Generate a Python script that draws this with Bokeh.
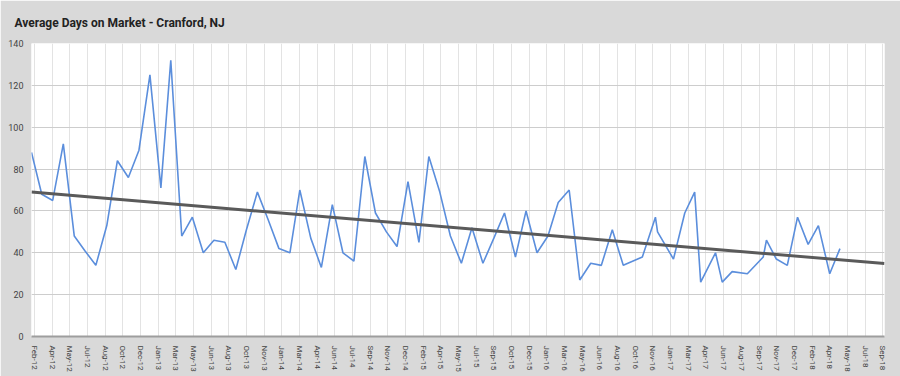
import numpy as np
import pandas as pd
from bokeh.plotting import figure
from bokeh.models import FixedTicker, Range1d
from bokeh.embed import file_html
from bokeh.resources import INLINE

title_text = "Average Days on Market - Cranford, NJ"

dates = [
    "2012-02-01", "2012-03-01", "2012-04-01", "2012-05-01", "2012-06-01", "2012-07-01",
    "2012-08-01", "2012-09-01", "2012-10-01", "2012-11-01", "2012-12-01", "2013-01-01",
    "2013-02-01", "2013-03-01", "2013-04-01", "2013-05-01", "2013-06-01", "2013-07-01",
    "2013-08-01", "2013-09-01", "2013-10-01", "2013-11-01", "2013-12-01", "2014-01-01",
    "2014-02-01", "2014-03-01", "2014-04-01", "2014-05-01", "2014-06-01", "2014-07-01",
    "2014-08-01", "2014-09-01", "2014-10-01", "2014-11-01", "2014-12-01", "2015-01-01",
    "2015-02-01", "2015-03-01", "2015-04-01", "2015-05-01", "2015-06-01", "2015-07-01",
    "2015-08-01", "2015-09-01", "2015-10-01", "2015-11-01", "2015-12-01", "2016-01-01",
    "2016-02-01", "2016-03-01", "2016-04-01", "2016-05-01", "2016-06-01", "2016-07-01",
    "2016-08-01", "2016-09-01", "2016-10-25", "2016-12-01", "2016-12-07", "2017-01-21",
    "2017-02-22", "2017-03-22", "2017-04-08", "2017-05-20", "2017-06-08", "2017-07-06",
    "2017-08-18", "2017-10-02", "2017-10-11", "2017-11-08", "2017-12-09", "2018-01-07",
    "2018-02-06", "2018-03-07", "2018-04-08", "2018-05-07",
]

days_on_market = [
    88, 68, 65, 92, 48, 41, 34, 53, 84, 76,
    89, 125, 71, 132, 48, 57, 40, 46, 45, 32,
    51, 69, 56, 42, 40, 70, 47, 33, 63, 40,
    36, 86, 59, 50, 43, 74, 45, 86, 69, 48,
    35, 52, 35, 47, 59, 38, 60, 40, 48, 64,
    70, 27, 35, 34, 51, 34, 38, 57, 50, 37,
    59, 69, 26, 40, 26, 31, 30, 38, 46, 37,
    34, 57, 44, 53, 30, 42,
]

tick_labels = [
    "Feb-12", "Apr-12", "May-12", "Jul-12", "Aug-12", "Oct-12", "Dec-12",
    "Jan-13", "Mar-13", "May-13", "Jun-13", "Aug-13", "Oct-13", "Nov-13",
    "Jan-14", "Mar-14", "Apr-14", "Jun-14", "Jul-14", "Sep-14", "Nov-14", "Dec-14",
    "Feb-15", "Apr-15", "May-15", "Jul-15", "Sep-15", "Oct-15", "Dec-15",
    "Jan-16", "Mar-16", "May-16", "Jun-16", "Aug-16", "Oct-16", "Nov-16",
    "Jan-17", "Mar-17", "Apr-17", "Jun-17", "Aug-17", "Sep-17", "Nov-17", "Dec-17",
    "Feb-18", "Apr-18", "May-18", "Jul-18", "Sep-18",
]

y_ticks = [0, 20, 40, 60, 80, 100, 120, 140]

# x as days since the first observation
d = pd.to_datetime(dates)
x = np.array((d - d[0]).days, dtype=float)

# axis ticks: evenly spaced (about every 50 days), as in the original date axis
tick_step = 50
tick_first = 8
tick_pos = [tick_first + tick_step * k for k in range(len(tick_labels))]
x_end = tick_pos[-1] + 5

# linear trendline fitted to the series, extended across the axis
slope, intercept = np.polyfit(x, np.array(days_on_market, dtype=float), 1)
trend_x = [0.0, float(x_end)]
trend_y = [intercept + slope * t for t in trend_x]

p = figure(
    width=900, height=376, output_backend="svg", toolbar_location=None,
    x_range=Range1d(0, x_end), y_range=Range1d(0, 140),
    min_border_left=31, min_border_right=16, min_border_top=41, min_border_bottom=40,
)

p.border_fill_color = "#d9d9d9"
p.background_fill_color = "#ffffff"
p.outline_line_color = None

p.title.text = title_text
p.title.text_font = "Roboto"
p.title.text_font_size = "12px"
p.title.text_font_style = "bold"
p.title.text_color = "#222222"
p.title.offset = -17
p.title.standoff = 27

p.yaxis.ticker = FixedTicker(ticks=y_ticks)
p.yaxis.axis_line_color = None
p.yaxis.major_tick_line_color = None
p.yaxis.minor_tick_line_color = None
p.yaxis.major_label_text_font = "Roboto"
p.yaxis.major_label_text_font_size = "9px"
p.yaxis.major_label_text_color = "#444444"
p.yaxis.major_label_standoff = 2

p.xaxis.ticker = FixedTicker(ticks=tick_pos)
p.xaxis.major_label_overrides = {t: lab for t, lab in zip(tick_pos, tick_labels)}
p.xaxis.major_label_orientation = "vertical"
p.xaxis.major_tick_line_color = None
p.xaxis.minor_tick_line_color = None
p.xaxis.axis_line_color = "#9e9e9e"
p.xaxis.axis_line_width = 2
p.xaxis.major_label_text_font = "Roboto"
p.xaxis.major_label_text_font_size = "8px"
p.xaxis.major_label_text_color = "#444444"
p.xaxis.major_label_standoff = 3

p.xgrid.grid_line_color = "#e3e3e3"
p.ygrid.grid_line_color = "#cdcdcd"

p.line(x, days_on_market, line_color="#5b8edc", line_width=1.6)
p.line(trend_x, trend_y, line_color="#5a5a5a", line_width=3)

open("out.html", "w").write(file_html(p, INLINE))
